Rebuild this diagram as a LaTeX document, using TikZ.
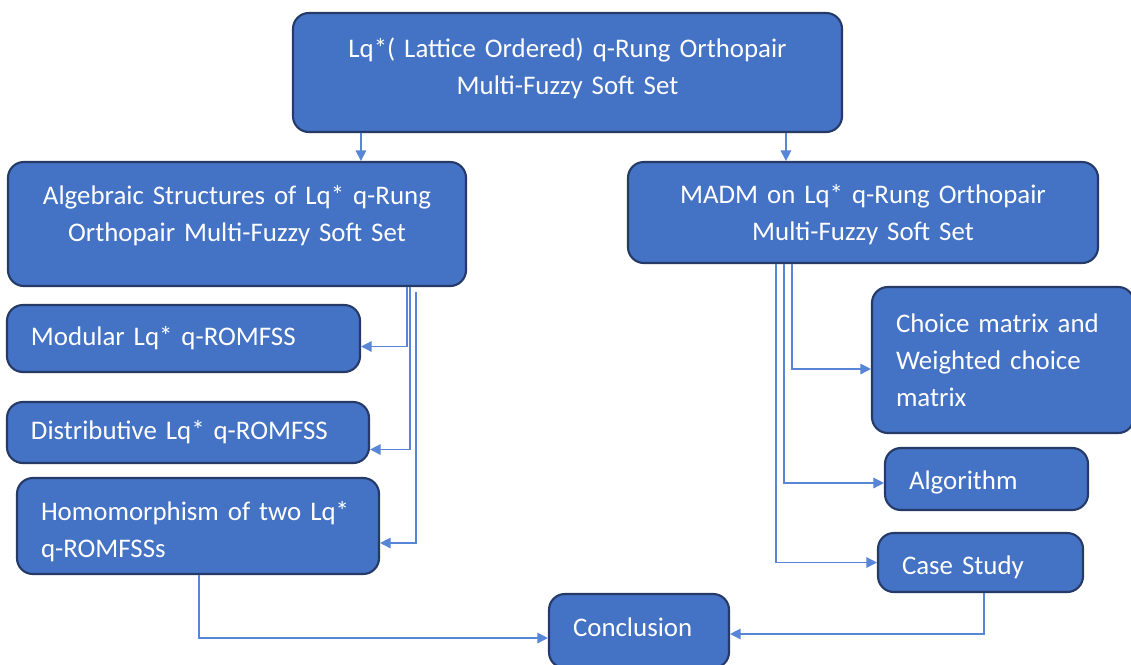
\documentclass[tikz,border=0pt]{standalone}
\usepackage{fontspec}
\setmainfont{Carlito}
\usetikzlibrary{
  arrows.meta,
  calc,
  positioning
}
\definecolor{boxblue}{RGB}{68,114,196}
\definecolor{boxedge}{RGB}{38,58,104}
\definecolor{linkblue}{RGB}{88,134,214}
\newlength{\px}
\setlength{\px}{0.02cm}

\begin{document}
\begin{tikzpicture}[x=0.02cm, y=-0.02cm,
  box/.style={draw=boxedge, fill=boxblue, line width=1.2pt, rounded corners=9pt,
    text=white, font=\fontsize{15.3}{21}\selectfont, inner xsep=24\px, inner ysep=0pt},
  link/.style={draw=linkblue, line width=0.8pt, -{Triangle[length=6pt,width=6pt]}}]
  \useasboundingbox (0,0) rectangle (1131,664);
  \clip (0,0) rectangle (1131,664);

  % Top level
  \node[box, align=center, text width=501\px, minimum height=119\px, text depth=28.7pt] (top) at (567.5,72.5)
    {Lq*( Lattice Ordered) q-Rung Orthopair\\ Multi-Fuzzy Soft Set};

  % Two branches
  \node[box, align=center, text width=410\px, minimum height=124\px, text depth=33.2pt] (alg) at (237,224)
    {Algebraic Structures of Lq* q-Rung\\ Orthopair Multi-Fuzzy Soft Set};
  \node[box, align=center, text width=422\px, minimum height=101\px, text height=14.2pt, text depth=24.1pt] (madm) at (863,212.5)
    {MADM on Lq* q-Rung Orthopair\\ Multi-Fuzzy Soft Set};

  % Left column
  \node[box, align=left, text width=305\px, minimum height=67\px] (mod) at (183.5,338.5)
    {Modular Lq* q-ROMFSS};
  \node[box, align=left, text width=314\px, minimum height=61\px] (dist) at (188,432.5)
    {Distributive Lq* q-ROMFSS};
  \node[box, align=left, text width=314\px, minimum height=96\px, text height=17.6pt, text depth=24.2pt] (hom) at (198,526)
    {Homomorphism of two Lq*\\ q-ROMFSSs};

  % Right column
  \node[box, align=left, text width=214\px, minimum height=146\px] (choice) at (1003,360)
    {Choice matrix and\\ Weighted choice\\ matrix};
  \node[box, align=left, text width=155\px, minimum height=62\px, text height=12.2pt, text depth=0pt] (algo) at (986.5,479)
    {Algorithm};
  \node[box, align=left, text width=157\px, minimum height=59\px, text height=13.3pt, text depth=0pt] (case) at (980.5,562.5)
    {Case Study};

  % Bottom
  \node[box, align=left, text width=132\px, minimum height=74\px, text depth=4.5pt] (concl) at (639,631)
    {Conclusion};

  % Links
  \draw[link] ([xshift=69\px]top.south west) -- ([xshift=354\px]alg.north west);
  \draw[link] ([xshift=494\px]top.south west) -- ([xshift=159\px]madm.north west);

  \draw[link] ([xshift=400\px]alg.south west) |- ([yshift=-8\px]mod.east);
  \draw[link] ([xshift=403\px]alg.south west) |- ([yshift=-17\px]dist.east);
  \draw[link] ([xshift=409\px,yshift=-5\px]alg.south west) |- ([yshift=-17\px]hom.east);

  \draw[link] ([xshift=165\px]madm.south west) |- ([yshift=-9\px]choice.west);
  \draw[link] ([xshift=157\px]madm.south west) |- ([yshift=-4\px]algo.west);
  \draw[link] ([xshift=149\px]madm.south west) |- (case.west);

  \draw[link] ([xshift=183\px]hom.south west) |- ([yshift=-7\px]concl.west);
  \draw[link] ([xshift=107\px]case.south west) |- ([yshift=-3\px]concl.east);
\end{tikzpicture}
\end{document}
